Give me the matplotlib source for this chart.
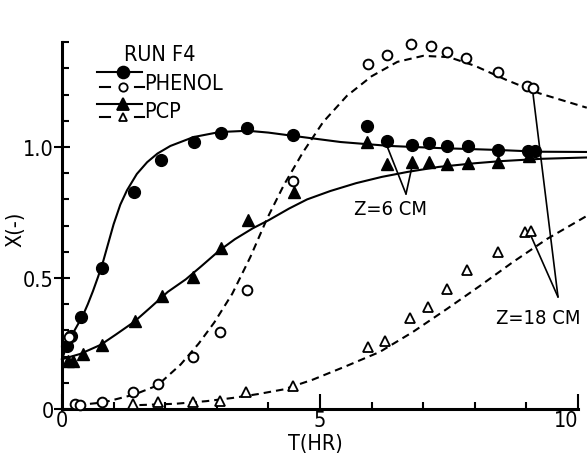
import matplotlib
matplotlib.use('Agg')
import matplotlib.pyplot as plt
from matplotlib.lines import Line2D
from matplotlib import font_manager

# --- data (T in hr, X dimensionless) ---
phenol6_t = [0.10, 0.17, 0.37, 0.78, 1.40, 1.92, 2.56, 3.08, 3.58, 4.48, 5.91, 6.30, 6.78, 7.11, 7.46, 7.87, 8.45, 9.03, 9.17]
phenol6_x = [0.24, 0.28, 0.35, 0.54, 0.83, 0.95, 1.02, 1.055, 1.073, 1.046, 1.08, 1.023, 1.008, 1.015, 1.004, 1.004, 0.989, 0.985, 0.985]

phenol18_t = [0.14, 0.25, 0.35, 0.78, 1.38, 1.86, 2.54, 3.06, 3.58, 4.48, 5.93, 6.30, 6.76, 7.15, 7.46, 7.83, 8.45, 9.01, 9.13]
phenol18_x = [0.275, 0.02, 0.017, 0.027, 0.063, 0.095, 0.20, 0.294, 0.454, 0.87, 1.317, 1.351, 1.393, 1.385, 1.363, 1.34, 1.286, 1.233, 1.225]

pcp6_t = [0.12, 0.21, 0.41, 0.78, 1.41, 1.94, 2.54, 3.08, 3.60, 4.49, 5.91, 6.30, 6.78, 7.11, 7.46, 7.87, 8.45, 9.05]
pcp6_x = [0.183, 0.183, 0.21, 0.244, 0.334, 0.431, 0.504, 0.614, 0.722, 0.83, 1.019, 0.935, 0.943, 0.943, 0.937, 0.939, 0.943, 0.965]

pcp18_t = [1.38, 1.86, 2.54, 3.06, 3.57, 4.48, 5.93, 6.26, 6.74, 7.09, 7.46, 7.85, 8.45, 8.97, 9.09]
pcp18_x = [0.019, 0.027, 0.027, 0.031, 0.065, 0.086, 0.237, 0.26, 0.347, 0.389, 0.458, 0.531, 0.599, 0.676, 0.68]

# model curves (traced)
fit_phenol6_t = [0.0, 0.1, 0.2, 0.3, 0.4, 0.5, 0.6, 0.7, 0.8, 0.9, 1.0, 1.13, 1.26, 1.45, 1.65, 1.85, 2.1, 2.55,
                 3.05, 3.6, 4.0, 4.5, 5.4, 6.35, 7.3, 8.4, 9.25, 10.17]
fit_phenol6_x = [0.19, 0.245, 0.285, 0.32, 0.355, 0.40, 0.45, 0.505, 0.565, 0.635, 0.705, 0.78, 0.835, 0.897, 0.942,
                 0.975, 1.004, 1.038, 1.057, 1.062, 1.055, 1.042, 1.019, 1.004, 0.996, 0.989, 0.982, 0.981]

fit_pcp6_t = [0.0, 0.35, 0.75, 1.05, 1.4, 1.7, 2.05, 2.4, 2.7, 3.05, 3.35, 3.7, 4.0, 4.4, 4.75, 5.2, 5.7, 6.2,
              6.7, 7.3, 8.0, 8.5, 9.3, 10.17]
fit_pcp6_x = [0.19, 0.21, 0.245, 0.285, 0.333, 0.385, 0.447, 0.495, 0.545, 0.605, 0.648, 0.69, 0.72, 0.765, 0.80,
              0.832, 0.862, 0.886, 0.905, 0.924, 0.938, 0.946, 0.955, 0.96]

fit_phenol18_t = [0.3, 0.8, 1.4, 1.85, 2.3, 2.65, 2.95, 3.3, 3.65, 3.97, 4.3, 4.67, 5.06, 5.52, 6.0, 6.5, 7.0,
                  7.5, 8.0, 8.6, 9.25, 10.17]
fit_phenol18_x = [0.015, 0.025, 0.055, 0.09, 0.17, 0.25, 0.33, 0.44, 0.58, 0.725, 0.855, 0.98, 1.095, 1.195,
                  1.27, 1.325, 1.348, 1.343, 1.31, 1.257, 1.205, 1.15]

fit_pcp18_t = [1.5, 2.2, 2.8, 3.3, 3.8, 4.3, 4.86, 5.5, 6.16, 6.8, 7.46, 8.1, 8.74, 9.4, 10.17]
fit_pcp18_x = [0.015, 0.02, 0.03, 0.042, 0.057, 0.075, 0.112, 0.163, 0.218, 0.294, 0.382, 0.47, 0.561, 0.649, 0.737]

W, H = 587, 464
X0, Y0 = 62, 410          # pixel of the origin
SX, SY = 51.6, 262.0      # pixels per hour / per unit X

# narrow lettering if a condensed face is around
condensed = any(f.name == 'DejaVu Sans' and f.stretch == 'condensed'
                for f in font_manager.fontManager.ttflist)
plt.rcParams['font.family'] = ['DejaVu Sans']
if condensed:
    plt.rcParams['font.stretch'] = 'condensed'
    FS = 15.5
else:
    FS = 13.5
FSZ = FS - 1


def fp(x, y):
    # pixel -> figure fraction
    return x / W, 1 - y / H


fig = plt.figure(figsize=(W / 100, H / 100), dpi=100)
ax = fig.add_axes([0, 0, 1, 1])
ax.set_xlim(-X0 / SX, (W - X0) / SX)
ax.set_ylim(-(H - Y0) / SY, Y0 / SY)

lw = 1.5
dash = (0, (3.6, 2.4))

ax.plot(fit_phenol6_t, fit_phenol6_x, color='black', lw=lw)
ax.plot(fit_pcp6_t, fit_pcp6_x, color='black', lw=lw)
ax.plot(fit_phenol18_t, fit_phenol18_x, color='black', lw=lw, linestyle=dash)
ax.plot(fit_pcp18_t, fit_pcp18_x, color='black', lw=lw, linestyle=dash)

ax.plot(phenol6_t, phenol6_x, 'o', color='black', ms=8.5, zorder=4)
ax.plot(phenol18_t, phenol18_x, 'o', mfc='white', mec='black', mew=1.4, ms=7, zorder=4)
ax.plot(pcp6_t, pcp6_x, '^', color='black', ms=8, zorder=4)
ax.plot(pcp18_t, pcp18_x, '^', mfc='white', mec='black', mew=1.3, ms=6.5, zorder=4)

# axes look
for s in ['top', 'right']:
    ax.spines[s].set_visible(False)
ax.spines['left'].set_position(('data', 0))
ax.spines['bottom'].set_position(('data', 0))
ax.spines['left'].set_bounds(0, 1.4)
ax.spines['bottom'].set_bounds(0, 10)
ax.spines['left'].set_linewidth(2.2)
ax.spines['bottom'].set_linewidth(2.2)

ax.set_xticks([0, 5, 10])
ax.set_xticklabels(['0', '5', '10'], fontsize=FS)
ax.set_xticks([1, 2, 3, 4, 6, 7, 8, 9], minor=True)
ax.set_yticks([0, 0.5, 1.0])
ax.set_yticklabels(['0', '0.5', '1.0'], fontsize=FS)
ax.set_yticks([0.1, 0.2, 0.3, 0.4, 0.6, 0.7, 0.8, 0.9, 1.1, 1.2, 1.3, 1.4], minor=True)
ax.tick_params(axis='x', which='major', direction='in', length=10.5, width=1.5, pad=1)
ax.tick_params(axis='x', which='minor', direction='in', length=5, width=1.5)
ax.tick_params(axis='y', which='major', direction='inout', length=12, width=1.5, pad=0)
ax.tick_params(axis='y', which='minor', direction='in', length=5, width=1.5)
# the zero on the X(-) axis sits a little above the axis line
ax.get_yticklabels()[0].set_y(0.03)
# "10" ends right at the edge
ax.get_xticklabels()[2].set_ha('right')
ax.get_xticklabels()[2].set_x(10.08)

fig.text(*fp(315, 444), 'T(HR)', fontsize=FS, ha='center', va='center')
fig.text(*fp(15, 229), 'X(-)', fontsize=FS, ha='center', va='center', rotation=90)

# legend block
fig.text(*fp(124, 55), 'RUN F4', fontsize=FS, ha='left', va='center')
for yy, mk, filled, ms in [(73, 'o', True, 8.5), (88, 'o', False, 6), (105, '^', True, 8), (118, '^', False, 6)]:
    x1, y1 = fp(97, yy)
    x2, _ = fp(142, yy)
    xm, _ = fp(123, yy)
    if filled:
        fig.add_artist(Line2D([x1, x2], [y1, y1], color='black', lw=lw))
    else:
        for a, b in [(100, 110), (135, 144)]:
            fig.add_artist(Line2D([a / W, b / W], [y1, y1], color='black', lw=lw))
    fig.add_artist(Line2D([xm], [y1], marker=mk, ms=ms, color='black',
                          mfc='black' if filled else 'white', mew=1.3))
fig.text(*fp(144, 84), 'PHENOL', fontsize=FS, ha='left', va='center')
fig.text(*fp(144, 112), 'PCP', fontsize=FS, ha='left', va='center')

# Z labels with pointer lines
apex6 = ((406 - X0) / SX, (Y0 - 195) / SY)
for tx, ty in [(phenol6_t[11], phenol6_x[11] - 0.02), (pcp6_t[12], pcp6_x[12] - 0.02)]:
    ax.annotate('', xy=(tx, ty), xytext=apex6,
                arrowprops=dict(arrowstyle='-', color='black', lw=1.2, shrinkA=0, shrinkB=0))
ax.text((391 - X0) / SX, (Y0 - 210) / SY, 'Z=6 CM', fontsize=FSZ, ha='center', va='center')

apex18 = ((558 - X0) / SX, (Y0 - 298) / SY)
for tx, ty in [(pcp18_t[14], pcp18_x[14] - 0.02), (phenol18_t[18], phenol18_x[18] - 0.025)]:
    ax.annotate('', xy=(tx, ty), xytext=apex18,
                arrowprops=dict(arrowstyle='-', color='black', lw=1.2, shrinkA=0, shrinkB=0))
ax.text((538 - X0) / SX, (Y0 - 318) / SY, 'Z=18 CM', fontsize=FSZ, ha='center', va='center')

fig.savefig('out.png', dpi=100)
